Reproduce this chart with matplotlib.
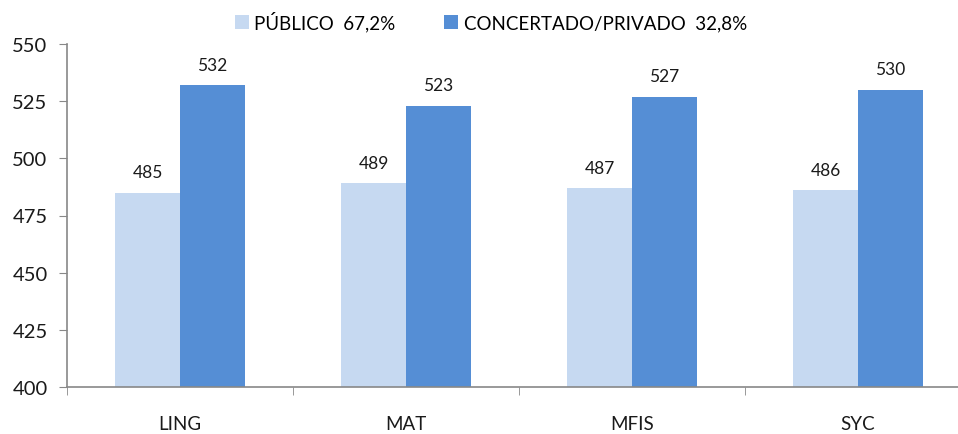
import matplotlib
matplotlib.use("Agg")
import matplotlib.pyplot as plt
import numpy as np
from matplotlib.ticker import FixedLocator, NullFormatter

categories = ["LING", "MAT", "MFIS", "SYC"]
publico = [485, 489, 487, 486]
privado = [532, 523, 527, 530]
series_names = ["PÚBLICO  67,2%", "CONCERTADO/PRIVADO  32,8%"]
colors = ["#C6D9F1", "#558ED5"]

plt.rcParams['font.family'] = ['Lato', 'DejaVu Sans']

fig = plt.figure(figsize=(9.58, 4.35), dpi=100)
ax = fig.add_axes([67/958, 1-388/435, (971-67)/958, (388-45)/435])

x = np.arange(len(categories))
w = 0.287
b1 = ax.bar(x - w/2, [v - 400 for v in publico], w, bottom=400, color=colors[0], label=series_names[0])
b2 = ax.bar(x + w/2, [v - 400 for v in privado], w, bottom=400, color=colors[1], label=series_names[1])

for bars, vals in ((b1, publico), (b2, privado)):
    for r, v in zip(bars, vals):
        ax.annotate(str(v), (r.get_x() + r.get_width()/2, v), xytext=(0, 9),
                    textcoords="offset points", ha="center", va="bottom",
                    fontsize=12.5, color="#1a1a1a")

ax.set_xlim(-0.5, len(categories) - 0.5)
ax.set_ylim(400, 550)
ax.set_yticks(np.arange(400, 551, 25))
ax.tick_params(axis='y', direction='out', length=6, color="#888888", labelsize=14.5, labelcolor="#1a1a1a", pad=8)

ax.set_xticks(x)
ax.set_xticklabels(categories)
ax.tick_params(axis='x', which='major', length=0, labelsize=13.5, labelcolor="#1a1a1a", pad=20)
ax.xaxis.set_minor_locator(FixedLocator(np.arange(-0.5, len(categories), 1.0)))
ax.xaxis.set_minor_formatter(NullFormatter())
ax.tick_params(axis='x', which='minor', direction='out', length=6, color="#888888")

for s in ["top", "right"]:
    ax.spines[s].set_visible(False)
for s in ["left", "bottom"]:
    ax.spines[s].set_color("#888888")
    ax.spines[s].set_linewidth(1.2)

leg = fig.legend(handles=[b1, b2], loc="center", bbox_to_anchor=(491/958, 1-22/435),
                 ncol=2, frameon=False, fontsize=13.5, handlelength=0.75, handleheight=0.75,
                 handletextpad=0.3, columnspacing=2.6)

fig.savefig("out.png", dpi=100)
